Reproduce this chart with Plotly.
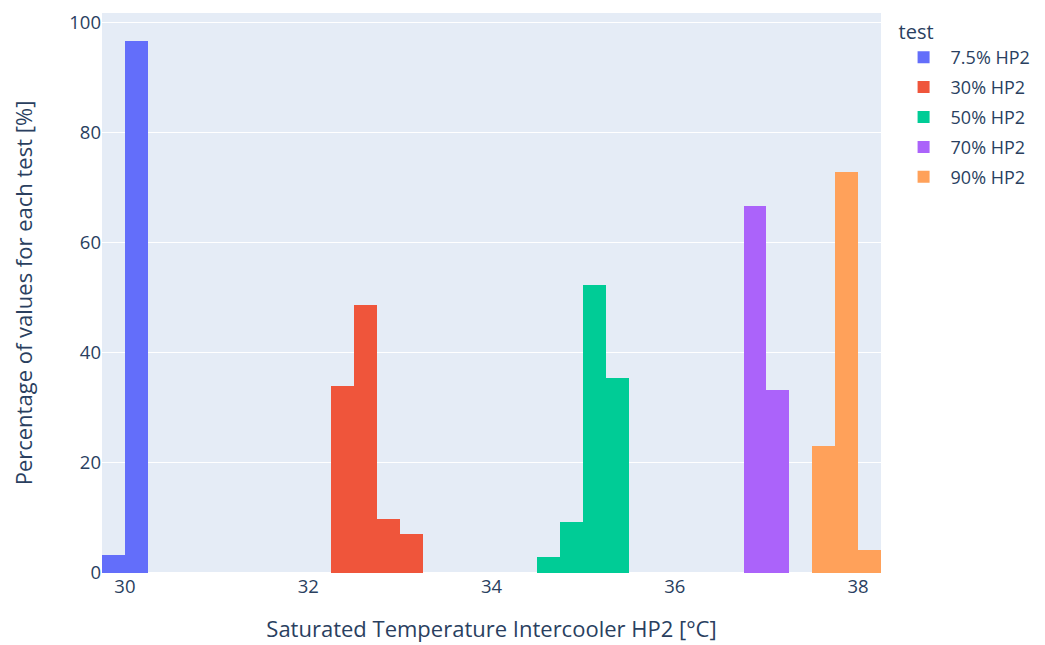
import plotly.graph_objects as go

bin_size = 0.25
tests = ["7.5% HP2", "30% HP2", "50% HP2", "70% HP2", "90% HP2"]
colors = ["#636EFA", "#EF553B", "#00CC96", "#AB63FA", "#FFA15A"]

bins_75 = [29.75, 30.0]
pct_75 = [3.3, 96.7]
bins_30 = [32.25, 32.5, 32.75, 33.0]
pct_30 = [34.0, 48.6, 9.8, 7.0]
bins_50 = [34.5, 34.75, 35.0, 35.25]
pct_50 = [2.9, 9.2, 52.3, 35.4]
bins_70 = [36.75, 37.0]
pct_70 = [66.7, 33.3]
bins_90 = [37.5, 37.75, 38.0]
pct_90 = [23.0, 72.8, 4.2]

series = [(bins_75, pct_75), (bins_30, pct_30), (bins_50, pct_50),
          (bins_70, pct_70), (bins_90, pct_90)]

fig = go.Figure()
for name, color, (bx, by) in zip(tests, colors, series):
    fig.add_trace(go.Bar(
        x=bx, y=by, name=name, offset=0, width=bin_size,
        legendgroup=name,
        marker=dict(color=color, line=dict(width=0)),
    ))

fig.update_layout(
    width=1045, height=645,
    template="plotly",
    barmode="overlay",
    bargap=0,
    font=dict(family="Open Sans", size=18.5, color="#2a3f5f"),
    margin=dict(l=94, r=172, t=5, b=80, autoexpand=False),
    legend=dict(title=dict(text="test", font=dict(size=20)), font=dict(size=18),
                tracegroupgap=3.5, itemwidth=44, y=1, yanchor="top"),
    xaxis=dict(range=[29.75, 38.25],
               title=dict(text="Saturated Temperature Intercooler HP2 [°C]", font=dict(size=22), standoff=25),
               dtick=2, tickfont=dict(size=18.5), showgrid=False, zeroline=False),
    yaxis=dict(range=[0, 101.7],
               title=dict(text="Percentage of values for each test [%]", font=dict(size=22), standoff=33),
               dtick=20, tickfont=dict(size=18.5)),
)

fig.write_html("out.html")
